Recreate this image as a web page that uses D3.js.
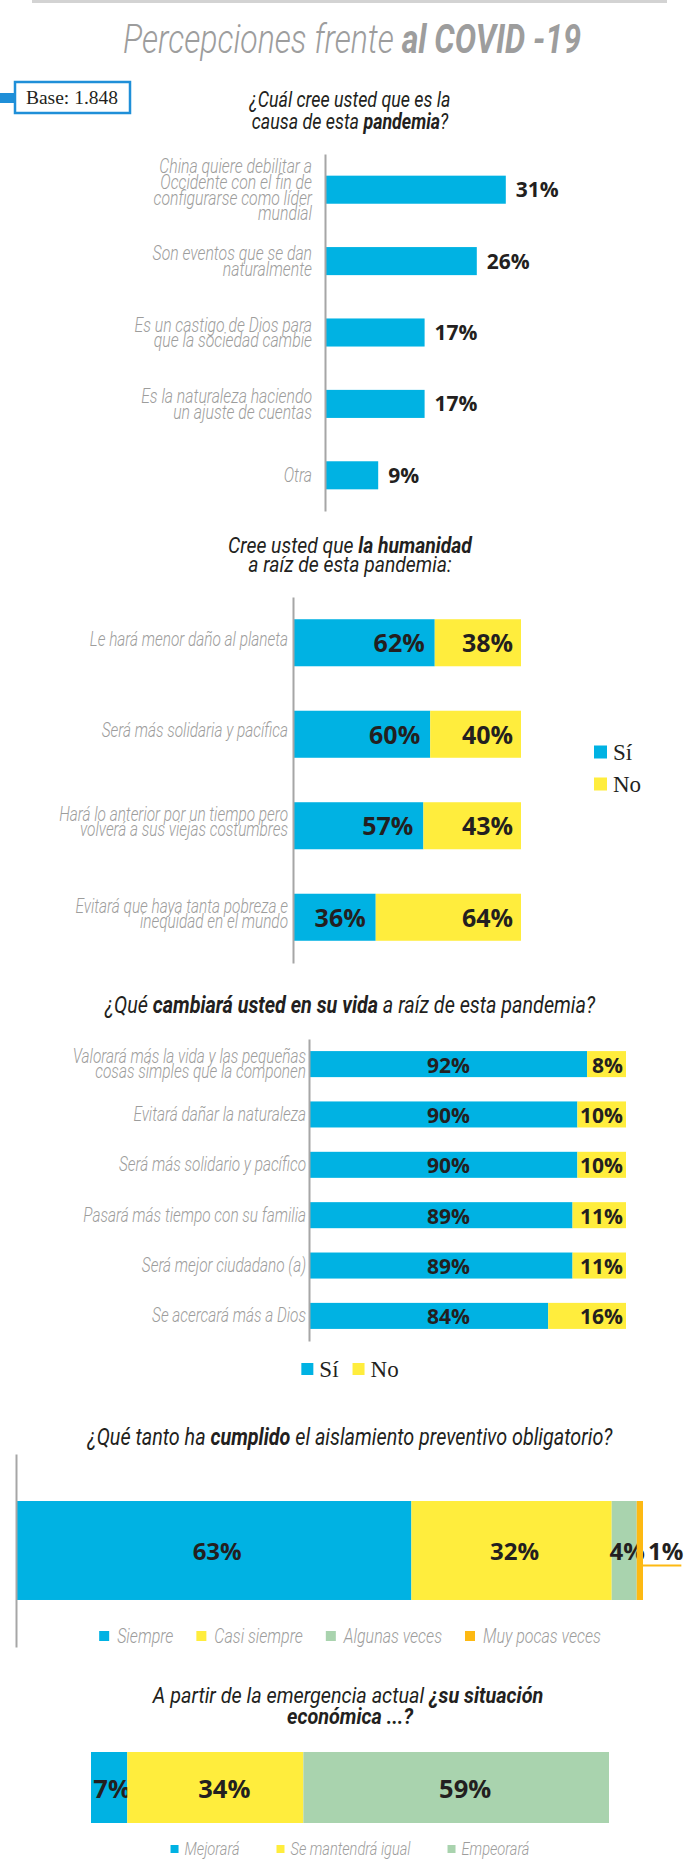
<!DOCTYPE html>
<html>
<head>
<meta charset="utf-8">
<script src="https://cdn.jsdelivr.net/npm/d3@7"></script>
<style>
  body { margin: 0; background: #fff; }
  .cond { font-family: Roboto, "Liberation Sans", sans-serif; font-style: italic; }
  .lbl { fill: #9d9d9c; font-weight: 300; }
  .q { fill: #231f20; font-weight: 400; }
  .val { font-family: "Open Sans", "Noto Sans", sans-serif; font-weight: 700; fill: #231f20; }
  .serif { font-family: "Liberation Serif", "DejaVu Serif", serif; fill: #231f20; }
</style>
</head>
<body>
<div id="chart"></div>
<script>
// ---- data ----
const q1Labels = [
  ['China quiere debilitar a', 'Occidente con el fin de', 'configurarse como líder', 'mundial'],
  ['Son eventos que se dan', 'naturalmente'],
  ['Es un castigo de Dios para', 'que la sociedad cambie'],
  ['Es la naturaleza haciendo', 'un ajuste de cuentas'],
  ['Otra']
];
const q1Values = [31, 26, 17, 17, 9];

const q2Labels = [
  ['Le hará menor daño al planeta'],
  ['Será más solidaria y pacífica'],
  ['Hará lo anterior por un tiempo pero', 'volverá a sus viejas costumbres'],
  ['Evitará que haya tanta pobreza e', 'inequidad en el mundo']
];
const q2Si = [62, 60, 57, 36];
const q2No = [38, 40, 43, 64];

const q3Labels = [
  ['Valorará más la vida y las pequeñas', 'cosas simples que la componen'],
  ['Evitará dañar la naturaleza'],
  ['Será más solidario y pacífico'],
  ['Pasará más tiempo con su familia'],
  ['Será mejor ciudadano (a)'],
  ['Se acercará más a Dios']
];
const q3Si = [92, 90, 90, 89, 89, 84];
const q3No = [8, 10, 10, 11, 11, 16];

const q4Categories = ['Siempre', 'Casi siempre', 'Algunas veces', 'Muy pocas veces'];
const q4Values = [63, 32, 4, 1];

const q5Categories = ['Mejorará', 'Se mantendrá igual', 'Empeorará'];
const q5Values = [7, 34, 59];

const siNo = ['Sí', 'No'];

// ---- setup ----
const width = 700;
const height = 1862;
const cx = width / 2;

const BLUE = '#00b2e3';
const YELLOW = '#ffed3d';
const GREEN = '#a9d3ae';
const ORANGE = '#fdb913';
const AXIS = '#a6a6a6';

const LBL_K = 0.77;  // horizontal squeeze of the condensed labels
const Q_K = 0.86;    // and of the questions

const svg = d3.select('#chart').append('svg')
  .attr('width', width)
  .attr('height', height);

// text narrowed with a horizontal scale, like the condensed face of the original
function ctext(parent, x, y, size, cls, anchor, k) {
  return parent.append('text')
    .attr('class', cls)
    .attr('transform', 'translate(' + x + ',' + y + ') scale(' + (k || 1) + ',1)')
    .attr('text-anchor', anchor || 'middle')
    .style('font-size', size + 'px');
}

function richLine(parts, x, y, size, cls, k) {
  const t = ctext(svg, x, y, size, cls, 'middle', k);
  parts.forEach(p => {
    t.append('tspan').style('font-weight', p[1] ? 700 : null).text(p[0]);
  });
  return t;
}

function catLabels(labels, y, xRight, lh, off, size) {
  labels.forEach((lines, i) => {
    const cy = y(i) + y.bandwidth() / 2;
    lines.forEach((line, j) => {
      ctext(svg, xRight, cy + (j - (lines.length - 1) / 2) * lh + off, size, 'cond lbl', 'end', LBL_K)
        .text(line);
    });
  });
}

function vAxis(y, x) {
  const g = svg.append('g')
    .attr('transform', 'translate(' + x + ',0)')
    .call(d3.axisLeft(y).tickSize(0).tickFormat(''));
  g.select('.domain').attr('stroke', AXIS).attr('stroke-width', 2);
}

// horizontal legend, centred on the page
function legendRow(names, colors, cy, sq, gapText, gapItem, size, cls, k) {
  const g = svg.append('g');
  const items = names.map((n, i) => {
    const it = g.append('g');
    it.append('rect').attr('width', sq).attr('height', sq).attr('y', -sq / 2).attr('fill', colors[i]);
    const t = ctext(it, sq + gapText, size * 0.34, size, cls, 'start', k).text(n);
    const w = t.node().getComputedTextLength() * k;
    return {it: it, w: sq + gapText + w};
  });
  const total = d3.sum(items, d => d.w) + gapItem * (items.length - 1);
  let pos = cx - total / 2;
  items.forEach(d => {
    d.it.attr('transform', 'translate(' + pos + ',' + cy + ')');
    pos += d.w + gapItem;
  });
}

// ---- header ----
svg.append('line')
  .attr('x1', 32).attr('x2', 667).attr('y1', 1.5).attr('y2', 1.5)
  .attr('stroke', '#d3d3d3').attr('stroke-width', 3);

richLine([['Percepciones frente ', false], ['al COVID -19', true]], cx + 2, 53, 40, 'cond', 0.8)
  .style('fill', '#9d9d9d').style('font-weight', 300);

svg.append('rect').attr('x', 0).attr('y', 93).attr('width', 14).attr('height', 10).attr('fill', '#1f8fd8');
svg.append('rect').attr('x', 15).attr('y', 82).attr('width', 115).attr('height', 31)
  .attr('fill', '#fff').attr('stroke', '#1f8fd8').attr('stroke-width', 2.5);
svg.append('text').attr('class', 'serif').attr('x', 72).attr('y', 104)
  .attr('text-anchor', 'middle').style('font-size', '19.5px').text('Base: 1.848');

// ---- chart 1 ----
richLine([['¿Cuál cree usted que es la', false]], cx, 107, 21.5, 'cond q', Q_K - 0.03);
richLine([['causa de esta ', false], ['pandemia', true], ['?', false]], cx, 129, 21.5, 'cond q', Q_K - 0.03);

const y1 = d3.scaleBand().domain(d3.range(q1Values.length)).range([154, 511])
  .paddingInner(0.607).paddingOuter(0.3035);
const x1 = d3.scaleLinear().domain([0, 100]).range([326, 906]);

svg.append('g').selectAll('rect').data(q1Values).join('rect')
  .attr('x', x1(0))
  .attr('y', (d, i) => y1(i))
  .attr('width', d => x1(d) - x1(0))
  .attr('height', y1.bandwidth())
  .attr('fill', BLUE);

svg.append('g').selectAll('text').data(q1Values).join('text')
  .attr('class', 'val')
  .attr('x', d => x1(d) + 10)
  .attr('y', (d, i) => y1(i) + y1.bandwidth() / 2 + 7.5)
  .style('font-size', '21px')
  .text(d => d + '%');

vAxis(y1, 325);
catLabels(q1Labels, y1, 312, 15.7, 7, 20.5);

// ---- chart 2 ----
richLine([['Cree usted que ', false], ['la humanidad', true]], cx, 553, 22.5, 'cond q', Q_K);
richLine([['a raíz de esta pandemia:', false]], cx, 572, 22.5, 'cond q', Q_K);

const q2Table = q2Si.map((s, i) => ({si: s, no: q2No[i]}));
const stack = d3.stack().keys(['si', 'no']);
const s2 = stack(q2Table);
const y2 = d3.scaleBand().domain(d3.range(q2Table.length)).range([597, 963])
  .paddingInner(0.486).paddingOuter(0.243);
const x2 = d3.scaleLinear().domain([0, 100]).range([294, 521]);
const fill2 = [BLUE, YELLOW];

s2.forEach((layer, li) => {
  svg.append('g').selectAll('rect').data(layer).join('rect')
    .attr('x', d => x2(d[0]))
    .attr('y', (d, i) => y2(i))
    .attr('width', d => x2(d[1]) - x2(d[0]))
    .attr('height', y2.bandwidth())
    .attr('fill', fill2[li]);
  svg.append('g').selectAll('text').data(layer).join('text')
    .attr('class', 'val')
    .attr('x', d => x2(d[1]) - (li === 0 ? 10 : 8))
    .attr('y', (d, i) => y2(i) + y2.bandwidth() / 2 + 9.5)
    .attr('text-anchor', 'end')
    .style('font-size', '25px')
    .text(d => (d[1] - d[0]) + '%');
});

vAxis(y2, 293);
catLabels(q2Labels, y2, 288, 15, 3, 20);

siNo.forEach((n, i) => {
  const g = svg.append('g').attr('transform', 'translate(594,' + (752 + i * 32) + ')');
  g.append('rect').attr('y', -6.5).attr('width', 13).attr('height', 13).attr('fill', fill2[i]);
  g.append('text').attr('class', 'serif').attr('x', 19).attr('y', 8).style('font-size', '23px').text(n);
});

// ---- chart 3 ----
richLine([['¿Qué ', false], ['cambiará usted en su vida', true], [' a raíz de esta pandemia?', false]],
  cx, 1013, 23, 'cond q', Q_K);

const q3Table = q3Si.map((s, i) => ({si: s, no: q3No[i]}));
const s3 = stack(q3Table);
const y3 = d3.scaleBand().domain(d3.range(q3Table.length)).range([1039, 1341])
  .paddingInner(0.483).paddingOuter(0.24);
// the original's value axis starts at 35 % (bars begin at the axis line)
const x3 = d3.scaleLinear().domain([35, 100]).range([310, 626]).clamp(true);
const x3Label = (x3.range()[0] + x3(d3.max(q3Si))) / 2;

s3.forEach((layer, li) => {
  svg.append('g').selectAll('rect').data(layer).join('rect')
    .attr('x', d => x3(d[0]))
    .attr('y', (d, i) => y3(i))
    .attr('width', d => x3(d[1]) - x3(d[0]))
    .attr('height', y3.bandwidth())
    .attr('fill', fill2[li]);
  svg.append('g').selectAll('text').data(layer).join('text')
    .attr('class', 'val')
    .attr('x', d => li === 0 ? x3Label : x3(d[1]) - 3)
    .attr('y', (d, i) => y3(i) + y3.bandwidth() / 2 + 8.5)
    .attr('text-anchor', li === 0 ? 'middle' : 'end')
    .style('font-size', '21px')
    .text(d => (d[1] - d[0]) + '%');
});

vAxis(y3, 309);
catLabels(q3Labels, y3, 306, 15.5, 6.5, 20);

legendRow(siNo, fill2, 1369, 12, 6, 14, 23, 'serif', 1);

// ---- chart 4 ----
richLine([['¿Qué tanto ha ', false], ['cumplido', true], [' el aislamiento preventivo obligatorio?', false]],
  cx, 1445, 23, 'cond q', Q_K);

const fill4 = [BLUE, YELLOW, GREEN, ORANGE];
const q4Row = {};
q4Categories.forEach((c, i) => { q4Row[c] = q4Values[i]; });
const s4 = d3.stack().keys(q4Categories)([q4Row]);
const y4 = d3.scaleBand().domain(['q4']).range([1454, 1647]).paddingInner(0).paddingOuter(0.475);
const x4 = d3.scaleLinear().domain([0, 100]).range([17, 643]);
const cy4 = y4('q4') + y4.bandwidth() / 2;

s4.forEach((layer, li) => {
  const d = layer[0];
  svg.append('rect')
    .attr('x', x4(d[0]))
    .attr('y', y4('q4'))
    .attr('width', x4(d[1]) - x4(d[0]))
    .attr('height', y4.bandwidth())
    .attr('fill', fill4[li]);
  const segW = x4(d[1]) - x4(d[0]);
  const inside = segW >= 20;
  const t = svg.append('text')
    .attr('class', 'val')
    .attr('x', inside ? (x4(d[0]) + x4(d[1])) / 2 + 3 : x4(d[1]) + 5)
    .attr('y', cy4 + 9.5)
    .attr('text-anchor', inside ? 'middle' : 'start')
    .style('font-size', '24px')
    .text(q4Values[li] + '%');
  if (!inside) {
    const w = t.node().getComputedTextLength();
    svg.append('line')
      .attr('x1', x4(d[1])).attr('x2', x4(d[1]) + 3 + w)
      .attr('y1', cy4 + 15).attr('y2', cy4 + 15)
      .attr('stroke', ORANGE).attr('stroke-width', 2);
  }
});

vAxis(y4, 16);
legendRow(q4Categories, fill4, 1636, 10, 8, 23, 20, 'cond lbl', LBL_K + 0.03);

// ---- chart 5 ----
richLine([['A partir de la emergencia actual ', false], ['¿su situación', true]], cx - 2, 1703, 22.5, 'cond q', Q_K + 0.02);
richLine([['económica ...?', true]], cx, 1724, 22.5, 'cond q', Q_K + 0.02);

const fill5 = [BLUE, YELLOW, GREEN];
const q5Row = {};
q5Categories.forEach((c, i) => { q5Row[c] = q5Values[i]; });
const s5 = d3.stack().keys(q5Categories)([q5Row]);
const y5 = d3.scaleBand().domain(['q5']).range([1752, 1823]);
const x5 = d3.scaleLinear().domain([0, 100]).range([91, 609]);
const cy5 = y5('q5') + y5.bandwidth() / 2;

s5.forEach((layer, li) => {
  const d = layer[0];
  svg.append('rect')
    .attr('x', x5(d[0]))
    .attr('y', y5('q5'))
    .attr('width', x5(d[1]) - x5(d[0]))
    .attr('height', y5.bandwidth())
    .attr('fill', fill5[li]);
  svg.append('text')
    .attr('class', 'val')
    .attr('x', (x5(d[0]) + x5(d[1])) / 2 + (li === 0 ? 3 : 9))
    .attr('y', cy5 + 10)
    .attr('text-anchor', 'middle')
    .style('font-size', '25.5px')
    .text(q5Values[li] + '%');
});

legendRow(q5Categories, fill5, 1849, 8, 6, 37, 19, 'cond lbl', LBL_K);
</script>
</body>
</html>
